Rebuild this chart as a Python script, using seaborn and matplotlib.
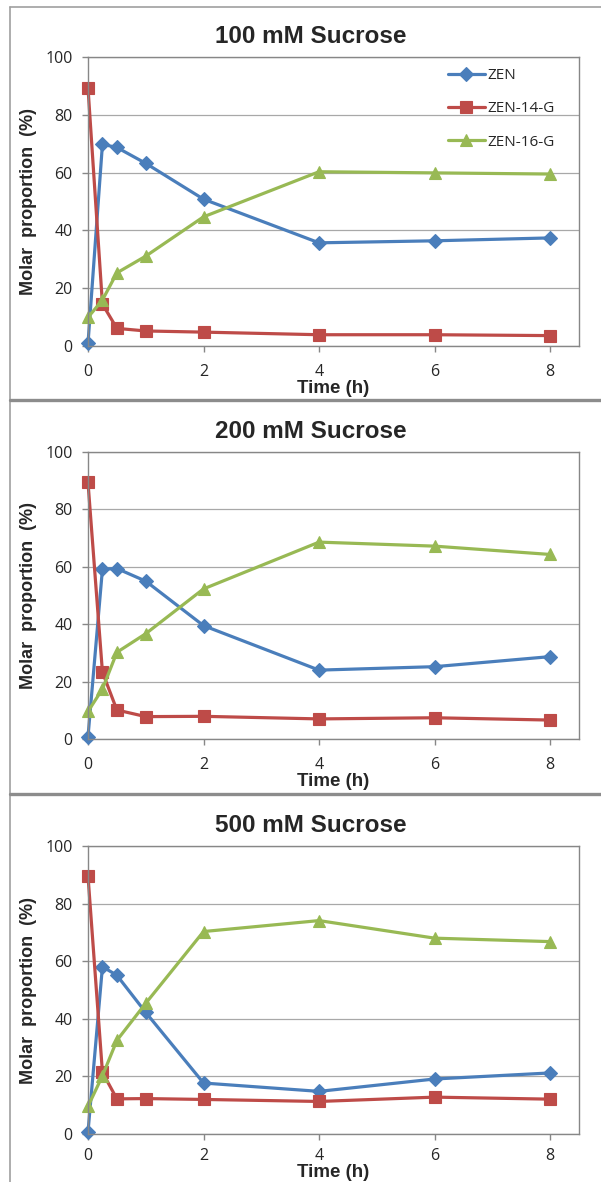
import matplotlib
matplotlib.use("Agg")
import numpy as np
import pandas as pd
import matplotlib.pyplot as plt
import seaborn as sns
from matplotlib.lines import Line2D

# Set figure aesthetics
sns.set_style("white")
plt.rcParams['font.family'] = ['Open Sans', 'DejaVu Sans']

# Data
time_h = [0, 0.25, 0.5, 1, 2, 4, 6, 8]
compounds = ['ZEN', 'ZEN-14-G', 'ZEN-16-G']
panel_titles = ['100 mM Sucrose', '200 mM Sucrose', '500 mM Sucrose']

zen_100 = [0.9, 69.8, 68.7, 63.2, 50.8, 35.7, 36.4, 37.4]
zen14_100 = [89.3, 14.5, 6.1, 5.2, 4.8, 3.9, 3.9, 3.6]
zen16_100 = [9.9, 15.9, 25.3, 31.1, 44.7, 60.3, 59.9, 59.5]

zen_200 = [0.8, 59.2, 59.4, 55.0, 39.5, 24.0, 25.2, 28.7]
zen14_200 = [89.4, 23.3, 10.1, 7.8, 7.9, 7.0, 7.4, 6.6]
zen16_200 = [9.6, 17.4, 30.2, 36.7, 52.3, 68.6, 67.2, 64.3]

zen_500 = [0.7, 58.1, 55.1, 42.2, 17.7, 14.8, 19.1, 21.2]
zen14_500 = [89.6, 21.4, 12.2, 12.3, 12.0, 11.3, 12.8, 12.1]
zen16_500 = [9.6, 20.2, 32.5, 45.4, 70.3, 74.1, 68.0, 66.8]

panels = [
    [zen_100, zen14_100, zen16_100],
    [zen_200, zen14_200, zen16_200],
    [zen_500, zen14_500, zen16_500],
]

colors = ['#4A7EBB', '#BE4B48', '#98B954']
markers = ['D', 's', '^']
msizes = [7, 8.5, 9]

W, H = 601, 1182
fig = plt.figure(figsize=(W / 100, H / 100), dpi=100)

# panel frames (pixel coords)
def hline(y, x0, x1, lw, c):
    fig.add_artist(Line2D([x0 / W, x1 / W], [1 - y / H, 1 - y / H], lw=lw, color=c,
                          transform=fig.transFigure))

fig.add_artist(Line2D([10 / W, 10 / W], [1 - 7 / H, 0], lw=1.2, color='#a0a0a0',
                      transform=fig.transFigure))
hline(7, 10, W, 1.2, '#a0a0a0')
hline(400, 10, W, 2.4, '#8c8c8c')
hline(794, 10, W, 2.4, '#8c8c8c')

# axes boxes: top, bottom in pixels
ax_left, ax_right = 88, 579
ax_rows = [(57, 346), (452, 739), (846, 1134)]

for i, (top, bot) in enumerate(ax_rows):
    ax = fig.add_axes([ax_left / W, 1 - bot / H, (ax_right - ax_left) / W, (bot - top) / H])
    vals = panels[i]
    df = pd.DataFrame({'time': time_h * 3,
                       'value': vals[0] + vals[1] + vals[2],
                       'compound': np.repeat(compounds, len(time_h))})
    for name, c, m, ms in zip(compounds, colors, markers, msizes):
        sub = df[df.compound == name]
        sns.lineplot(data=sub, x='time', y='value', color=c, marker=m, markersize=ms,
                     markeredgecolor=c, markeredgewidth=0.8, linewidth=2.3,
                     errorbar=None, legend=False, clip_on=False, ax=ax)

    ax.set_xlim(0, 8.5)
    ax.set_ylim(0, 100)
    ax.set_xticks([0, 2, 4, 6, 8])
    ax.set_yticks([0, 20, 40, 60, 80, 100])
    ax.grid(axis='y', color='#a8a8a8', lw=0.9)
    ax.set_axisbelow(True)
    for s in ax.spines.values():
        s.set_color('#878787')
        s.set_linewidth(1.0)
    ax.tick_params(direction='out', length=4, width=1, color='#878787',
                   labelsize=11.5, pad=7, bottom=True, left=True)
    ax.set_xlabel('Time (h)', fontsize=13.5, fontweight='bold', family='Liberation Sans')
    if i < 2:
        ax.tick_params(axis='x', pad=9)
        ax.xaxis.set_label_coords(0.5, -0.118)
    else:
        # last panel is cut at the image edge: keep the label just inside
        ax.tick_params(axis='x', pad=6)
        ax.xaxis.label.set_va('bottom')
        ax.xaxis.set_label_coords(0.5, -(H - 1 - bot) / (bot - top))
    ax.set_ylabel('Molar  proportion  (%)', fontsize=13, fontweight='bold',
                  family='Liberation Sans')
    ax.yaxis.set_label_coords(-0.103, 0.5)
    ax.text(0.454, 1.07, panel_titles[i], transform=ax.transAxes, ha='center', va='center',
            fontsize=17.5, fontweight='bold', family='Liberation Sans')

    if i == 0:
        handles = ax.lines[:3]
        ax.legend(handles, compounds, loc='upper left', frameon=False, fontsize=11,
                  bbox_to_anchor=(448 / W, 1 - 68 / H), bbox_transform=fig.transFigure,
                  borderpad=0, borderaxespad=0, handlelength=2.4, handletextpad=0.2,
                  labelspacing=1.2, numpoints=1)

fig.savefig('out.png', dpi=100)
